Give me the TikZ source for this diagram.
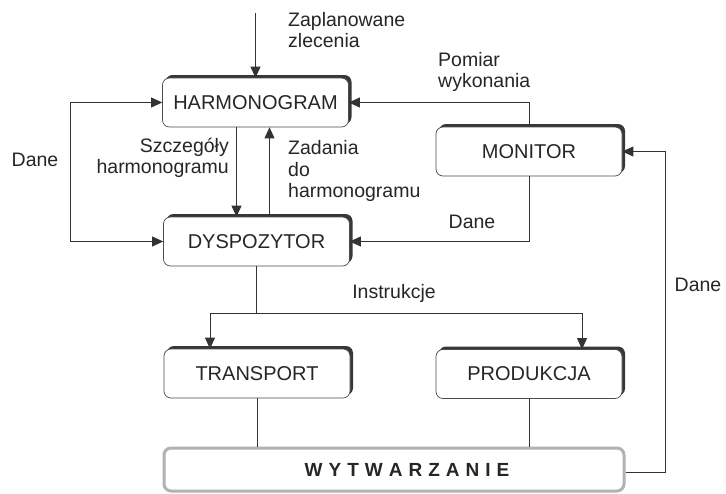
\documentclass[tikz,border=0pt]{standalone}
\usepackage{fontspec}
\setmainfont{Liberation Sans}
\usetikzlibrary{arrows.meta,shadows}
\begin{document}
\begin{tikzpicture}[x=1pt,y=-1pt,
  box/.style={draw=black!70, line width=0.7pt, fill=white, rounded corners=7pt,
    minimum width=186pt, minimum height=49pt, inner sep=0pt,
    font=\fontsize{20}{22}\selectfont, text=black!85,
    drop shadow={shadow xshift=3pt, shadow yshift=3pt, fill=black!78, opacity=1}},
  bigbox/.style={draw=black!30, line width=3pt, fill=white, rounded corners=7pt,
    minimum width=460pt, minimum height=43pt, inner sep=0pt,
    font=\fontsize{19}{22}\bfseries, text=black!85},
  lbl/.style={inner sep=0pt, font=\fontsize{19.5}{21.5}\selectfont, text=black!85},
  conn/.style={draw=black!80, line width=0.8pt},
  arr/.style={conn, -{Triangle[length=11pt,width=10pt]}},
  darr/.style={conn, {Triangle[length=11pt,width=10pt]}-{Triangle[length=11pt,width=10pt]}},
]
\fill[white] (0,0) rectangle (726,493);
\useasboundingbox (0,0) rectangle (726,493);

% boxes
\node[box] (harm)  at (255.5,102.5) {HARMONOGRAM};
\node[box] (mon)   at (529,151.5)   {MONITOR};
\node[box] (dysp)  at (256.5,241.5) {DYSPOZYTOR};
\node[box] (trans) at (257,373.5)   {TRANSPORT};
\node[box] (prod)  at (529,374)     {PRODUKCJA};
\def\ls{\hspace{6pt}}
\node[bigbox] (wyt) at (394,469.5) {\hspace*{26pt}W\ls Y\ls T\ls W\ls A\ls R\ls Z\ls A\ls N\ls I\ls E};

% connectors
\coordinate (zin) at (255.5,13);
\draw[arr] (zin) -- (harm.north);

\draw[darr] (harm.west) -- ++(-92,0) |- (dysp.west);

\draw[arr] (mon.north) |- (harm.east);

\coordinate (s1) at ([xshift=-19pt]harm.south);
\draw[arr] (s1) -- (s1 |- dysp.north);

\coordinate (z1) at ([xshift=13pt]dysp.north);
\draw[arr] (z1) -- (z1 |- harm.south);

\draw[arr] (mon.south) |- (dysp.east);

\coordinate (w1) at ([yshift=-3pt]wyt.east);
\draw[arr] (w1) -- ++(40,0) |- (mon.east);

\draw[conn] (dysp.south) -- ++(0,47) coordinate (ij);
\coordinate (t1) at ([xshift=-47pt]trans.north);
\coordinate (p1) at ([xshift=53pt]prod.north);
\draw[arr] (ij) -| (t1);
\draw[arr] (ij) -| (p1);

\draw[conn] (trans.south) -- (trans.south |- wyt.north);
\draw[conn] (prod.south) -- (prod.south |- wyt.north);

% labels
\node[lbl, anchor=west, align=left] (lz) at (288,30) {Zaplanowane\\zlecenia};
\node[lbl, anchor=west, align=left] (lp) at (438,72) {Pomiar\\wykonania};
\node[lbl, anchor=east, align=right] (ls) at (229,158) {Szczegóły\\harmonogramu};
\node[lbl, anchor=west, align=left] (lzd) at (288,171) {Zadania\\do\\harmonogramu};
\node[lbl] (ld1) at (35,160) {Dane};
\node[lbl] (ld2) at (472,222) {Dane};
\node[lbl] (ld3) at (698,285) {Dane};
\node[lbl] (li) at (394,293) {Instrukcje};
\end{tikzpicture}
\end{document}
